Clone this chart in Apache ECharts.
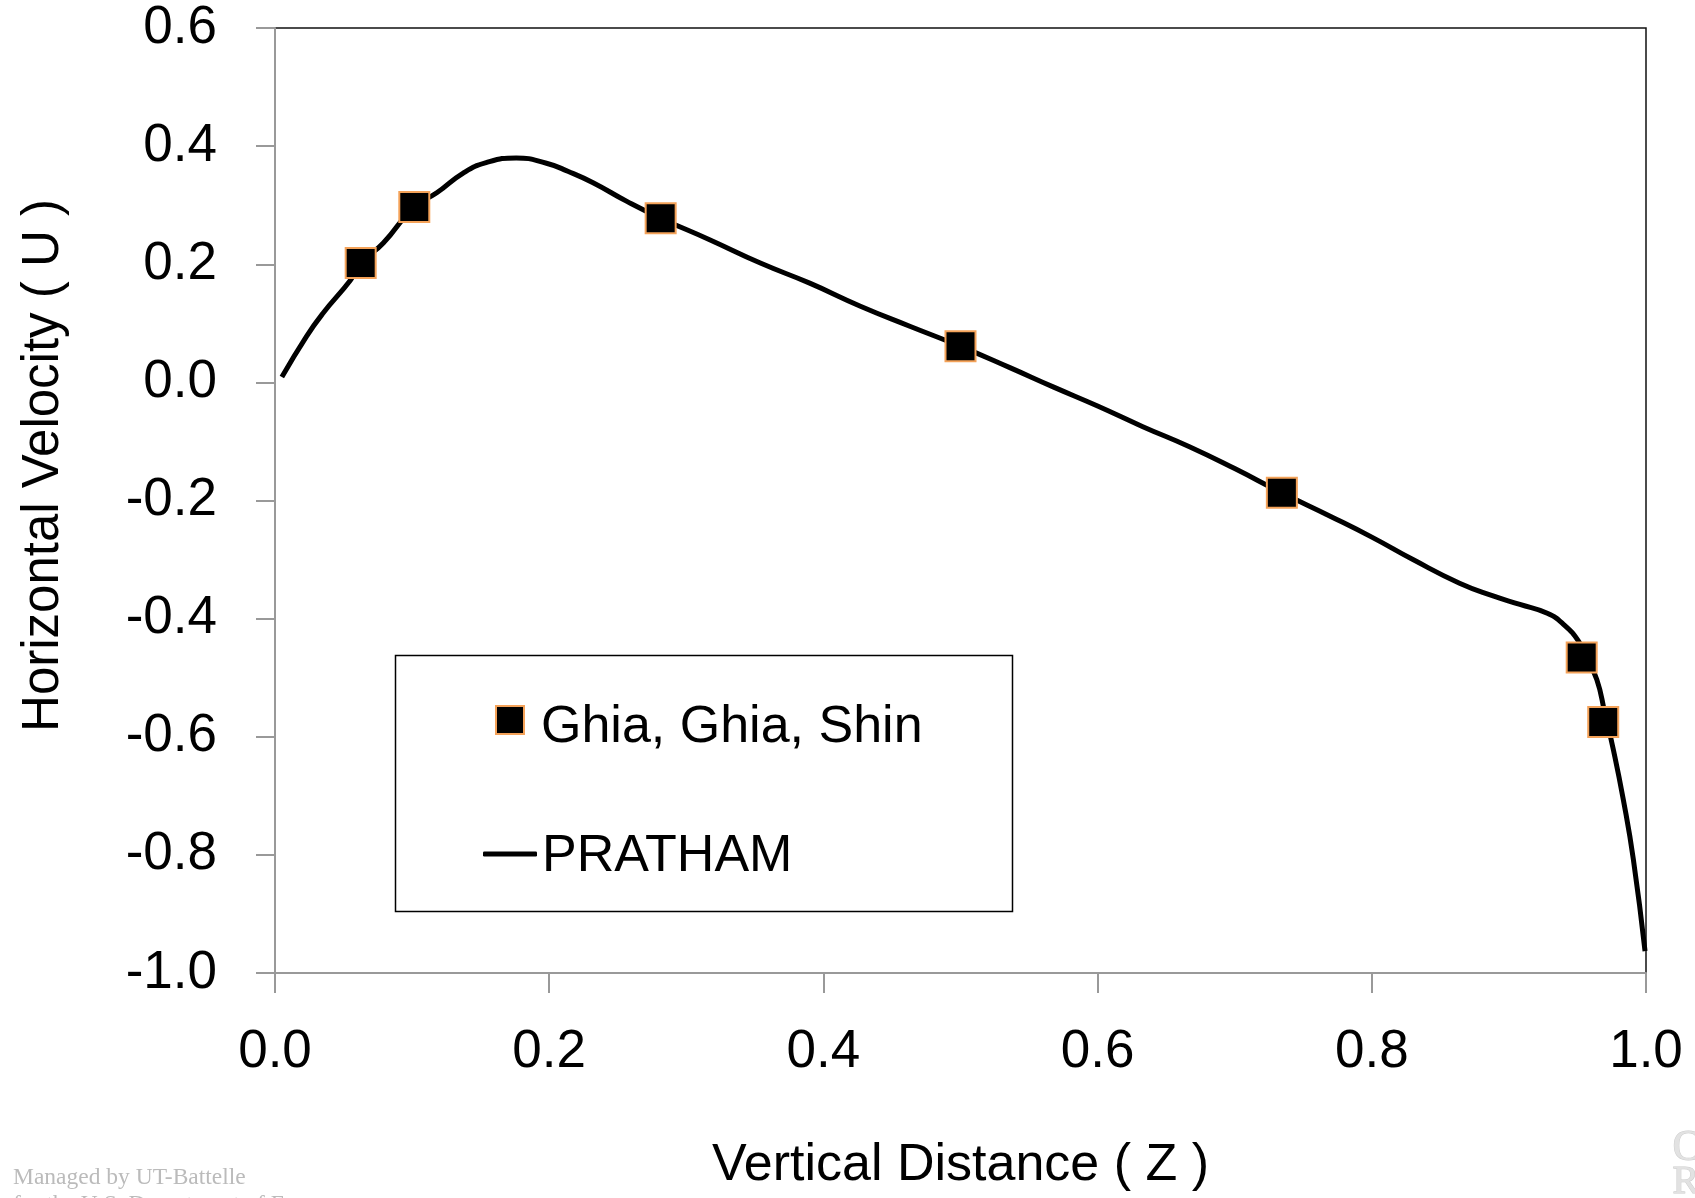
<!DOCTYPE html>
<html>
<head>
<meta charset="utf-8">
<script src="https://cdn.jsdelivr.net/npm/echarts@6/dist/echarts.min.js"></script>
<style>
  html, body { margin: 0; padding: 0; background: #fff; }
  #chart { width: 1695px; height: 1198px; }
</style>
</head>
<body>
<div id="chart"></div>
<script>
// Ghia, Ghia, Shin 参考点
var ghiaZ = [0.0625, 0.1016, 0.2813, 0.5, 0.7344, 0.9531, 0.9688];
var ghiaU = [0.202, 0.297, 0.278, 0.061, -0.187, -0.466, -0.575];

// PRATHAM 曲线
var prathamZ = [0.005, 0.023, 0.035, 0.055, 0.0634, 0.079, 0.1015, 0.118, 0.137, 0.154,
  0.176, 0.198, 0.214, 0.232, 0.257, 0.2813, 0.317, 0.354, 0.390, 0.427, 0.463, 0.5,
  0.536, 0.568, 0.6, 0.633, 0.667, 0.70, 0.7344, 0.77, 0.80, 0.83, 0.864, 0.889, 0.908,
  0.928, 0.940, 0.951, 0.9565, 0.9641, 0.970, 0.9762, 0.9835, 0.9908, 0.9993];
var prathamU = [0.009, 0.078, 0.117, 0.173, 0.203, 0.236, 0.297, 0.321, 0.354, 0.372,
  0.380, 0.371, 0.357, 0.338, 0.306, 0.278, 0.2415, 0.202, 0.168, 0.129, 0.095, 0.061,
  0.025, -0.008, -0.040, -0.075, -0.109, -0.146, -0.187, -0.227, -0.262, -0.300, -0.340,
  -0.362, -0.376, -0.391, -0.410, -0.439, -0.467, -0.503, -0.560, -0.622, -0.707, -0.808, -0.963];

var font = "'Liberation Sans', Arial, sans-serif";

var getchart = echarts.init(document.getElementById("chart"));
var option = {
  animation: false,
  grid: {
    left: 275,
    right: 49,
    top: 28,
    bottom: 225,
    show: true,
    borderColor: "#111",
    borderWidth: 1.5,
  },
  xAxis: {
    type: "value",
    min: 0,
    max: 1,
    interval: 0.2,
    name: "Vertical Distance ( Z )",
    nameLocation: "middle",
    nameGap: 167,
    nameTextStyle: { fontFamily: font, fontSize: 52, color: "#000" },
    axisLine: { onZero: false, lineStyle: { color: "#999", width: 2 } },
    axisTick: { show: true, length: 20, lineStyle: { color: "#999", width: 2 } },
    axisLabel: {
      margin: 53,
      fontFamily: font,
      fontSize: 53,
      color: "#000",
      formatter: function (v) { return v.toFixed(1); },
    },
    splitLine: { show: false },
  },
  yAxis: {
    type: "value",
    min: -1,
    max: 0.6,
    interval: 0.2,
    name: "Horizontal Velocity ( U )",
    nameLocation: "middle",
    nameGap: 206,
    nameTextStyle: { fontFamily: font, fontSize: 51, color: "#000", padding: [0, 0, 0, 70] },
    axisLine: { show: true, onZero: false, lineStyle: { color: "#999", width: 2 } },
    axisTick: { show: true, length: 19, lineStyle: { color: "#999", width: 2 } },
    axisLabel: {
      margin: 58,
      fontFamily: font,
      fontSize: 53,
      color: "#000",
      formatter: function (v) { return v.toFixed(1); },
    },
    splitLine: { show: false },
  },
  legend: [
    {
      left: 495,
      top: 702,
      padding: 0,
      itemWidth: 28,
      itemHeight: 28,
      data: ["Ghia, Ghia, Shin"],
      formatter: "{a|{name}}",
      textStyle: {
        fontFamily: font, fontSize: 52, color: "#000",
        rich: { a: { fontFamily: font, fontSize: 52, color: "#000", padding: [16, 0, 0, 12] } },
      },
    },
    {
      left: 483,
      top: 831,
      padding: 0,
      itemWidth: 54,
      itemHeight: 5,
      data: [{ name: "PRATHAM", icon: "roundRect" }],
      itemStyle: { color: "#000", borderWidth: 0 },
      formatter: "{a|{name}}",
      textStyle: {
        fontFamily: font, fontSize: 52, color: "#000",
        rich: { a: { fontFamily: font, fontSize: 52, color: "#000", padding: [6, 0, 0, 0] } },
      },
    },
  ],
  graphic: [
    {
      type: "rect",
      shape: { x: 395.5, y: 655.5, width: 617, height: 256 },
      style: { fill: "#fff", stroke: "#000", lineWidth: 1.5 },
      z: 0,
    },
    {
      type: "text",
      left: 13,
      top: 1166,
      style: { text: "Managed by UT-Battelle", fill: "#bbb", font: "23.5px 'Liberation Serif', serif" },
    },
    {
      type: "text",
      left: 13,
      top: 1193,
      style: { text: "for the U.S. Department of Energy", fill: "#bbb", font: "23.5px 'Liberation Serif', serif" },
    },
    {
      type: "text",
      left: 1672,
      top: 1126,
      style: { text: "O", fill: "#e2e2e2", stroke: "#ccc", lineWidth: 1, font: "44px 'Liberation Serif', serif" },
    },
    {
      type: "text",
      left: 1672,
      top: 1162,
      style: { text: "R", fill: "#e2e2e2", stroke: "#ccc", lineWidth: 1, font: "40px 'Liberation Serif', serif" },
    },
  ],
  series: [
    {
      name: "PRATHAM",
      type: "line",
      data: prathamZ.map(function (z, i) { return [z, prathamU[i]]; }),
      smooth: 0.5,
      symbol: "none",
      lineStyle: { color: "#000", width: 5 },
      itemStyle: { color: "#000" },
      z: 2,
    },
    {
      name: "Ghia, Ghia, Shin",
      type: "scatter",
      data: ghiaZ.map(function (z, i) { return [z, ghiaU[i]]; }),
      symbol: "rect",
      symbolSize: 30,
      itemStyle: { color: "#000", borderColor: "#f4a259", borderWidth: 2, opacity: 1 },
      z: 3,
    },
  ],
};
getchart.setOption(option);
</script>
</body>
</html>
